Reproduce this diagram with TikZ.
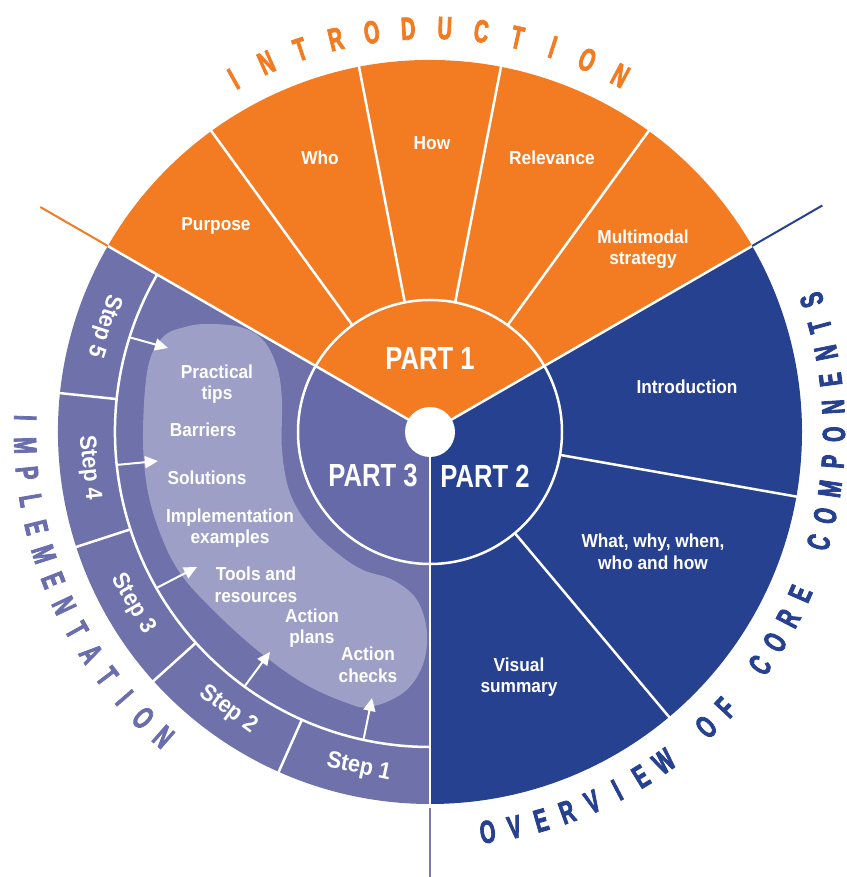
\documentclass[tikz,border=0pt]{standalone}
\usepackage{fontspec}
\setmainfont{Liberation Sans}
\newfontfamily\condf[FakeStretch=0.8]{Liberation Sans}
\newfontfamily\lblf[FakeStretch=0.92]{Liberation Sans}
\newfontfamily\ttlf[FakeStretch=0.62,FakeBold=2.5]{Liberation Sans}
\usetikzlibrary{arrows.meta}
\definecolor{orng}{RGB}{243,123,33}
\definecolor{navyc}{RGB}{38,65,143}
\definecolor{ringc}{RGB}{110,113,170}
\definecolor{pinner}{RGB}{102,106,168}
\definecolor{blobc}{RGB}{158,159,199}
\definecolor{implc}{RGB}{106,110,172}
\definecolor{linep}{RGB}{120,123,180}
\begin{document}
\begin{tikzpicture}[x=1pt,y=1pt,
  lbl/.style={text=white, font=\lblf\fontsize{18.8}{21.5}\selectfont\bfseries, align=center, inner sep=0pt},
  partlbl/.style={text=white, font=\condf\fontsize{32}{36}\selectfont\bfseries, inner sep=0pt},
  steplbl/.style={text=white, font=\lblf\fontsize{23.5}{25}\selectfont\bfseries, inner sep=0pt},
  sep/.style={white, line width=2.5pt},
  arr/.style={white, line width=2pt, -{Triangle[length=13pt,width=12pt]}},
  ttl/.style={font=\ttlf\fontsize{32}{34}\selectfont\bfseries, inner sep=0pt}
]
\useasboundingbox (-430,-445) rectangle (416,432);
% sectors
\fill[orng] (0,0) -- (30:372pt) arc[start angle=30,end angle=150,radius=372pt] -- cycle;
\fill[navyc] (0,0) -- (-90:372pt) arc[start angle=-90,end angle=30,radius=372pt] -- cycle;
\fill[ringc] (0,0) -- (150:372pt) arc[start angle=150,end angle=270,radius=372pt] -- cycle;
\fill[pinner] (0,0) -- (150:132pt) arc[start angle=150,end angle=270,radius=132pt] -- cycle;
% blob
\fill[blobc] plot[smooth cycle, tension=0.6] coordinates {
 (-223,108) (-245,105) (-267,95) (-282,65) (-287,-1) (-283,-55) (-270,-101)
 (-250,-141) (-217,-178) (-173,-218) (-127,-251) (-83,-271) (-60,-275)
 (-27,-261) (-8,-235) (-3,-201) (-13,-168) (-37,-148) (-67,-138) (-93,-121)
 (-120,-95) (-140,-61) (-148,-18) (-148,32) (-153,65) (-167,92) (-190,105)};
% separators
\foreach \a in {54,79,101,126,-10,-50} \draw[sep] (\a:132pt) -- (\a:373pt);
\foreach \a in {174,198,222,246} \draw[sep] (\a:315pt) -- (\a:373pt);
\foreach \a in {30,150,270} \draw[sep] (0,0) -- (\a:373pt);
\draw[sep] (0,0) circle[radius=132pt];
\draw[sep] (150:315pt) arc[start angle=150,end angle=270,radius=315pt];
% outer extensions
\draw[orng, line width=2pt] (150:372pt) -- (150:450pt);
\draw[navyc, line width=2pt] (30:372pt) -- (30:453pt);
\draw[linep, line width=2pt] (270:376pt) -- (270:450pt);
% center
\fill[white] (0,0) circle[radius=25pt];
% part labels
\node[partlbl] (p1) at (0,74) {PART 1};
\node[partlbl] (p3) at (-57,-44) {PART 3};
\node[partlbl] (p2) at (55,-44) {PART 2};
% orange labels
\node[lbl] (purpose) at (-214,206) {Purpose};
\node[lbl] (who) at (-110,274) {Who};
\node[lbl] (how) at (2,289) {How};
\node[lbl] (relev) at (122,274) {Relevance};
\node[lbl] (multi) at (213,183) {Multimodal\\strategy};
% navy labels
\node[lbl] (intro) at (257,45) {Introduction};
\node[lbl] (what) at (223,-120) {What, why, when,\\who and how};
\node[lbl] (visual) at (89,-245) {Visual\\summary};
% blob labels
\node[lbl] (tips) at (-213,48) {Practical\\tips};
\node[lbl] (barr) at (-227,2) {Barriers};
\node[lbl] (sol) at (-223,-46) {Solutions};
\node[lbl] (impl) at (-200,-96) {Implementation\\examples};
\node[lbl] (tools) at (-174,-153) {Tools and\\resources};
\node[lbl] (plans) at (-118,-196) {Action\\plans};
\node[lbl] (checks) at (-62,-233) {Action\\checks};
% step labels
\node[steplbl, rotate=252] (st5) at (162:343pt) {Step 5};
\node[steplbl, rotate=276] (st4) at (186:343pt) {Step 4};
\node[steplbl, rotate=300] (st3) at (210:343pt) {Step 3};
\node[steplbl, rotate=324] (st2) at (234:343pt) {Step 2};
\node[steplbl, rotate=348] (st1) at (258:343pt) {Step 1};
% arrows
\coordinate (a5s) at (162.5:315pt); \coordinate (a5e) at (-262,84);
\coordinate (a4s) at (186:315pt);   \coordinate (a4e) at (-272,-29);
\coordinate (a3s) at (209.7:315pt); \coordinate (a3e) at (-233,-135);
\coordinate (a2s) at (233.9:315pt); \coordinate (a2e) at (-160,-220);
\coordinate (a1s) at (257.8:315pt); \coordinate (a1e) at (-58,-266);
\draw[arr] (a5s) -- (a5e);
\draw[arr] (a4s) -- (a4e);
\draw[arr] (a3s) -- (a3e);
\draw[arr] (a2s) -- (a2e);
\draw[arr] (a1s) -- (a1e);
% curved titles
\foreach \c [count=\i from 0] in {I,N,T,R,O,D,U,C,T,I,O,N} {
  \pgfmathsetmacro\ang{119.1-\i*5.2}
  \node[ttl, text=orng, rotate=\ang-90] (ti\i) at (\ang:404pt) {\c};
}
\foreach \c [count=\i from 0] in {O,V,E,R,V,I,E,W,{},O,F,{},C,O,R,E,{},C,O,M,P,O,N,E,N,T,S} {
  \pgfmathsetmacro\ang{-81.8+\i*3.88}
  \node[ttl, text=navyc, rotate=\ang+90] (to\i) at (\ang:404pt) {\c};
}
\foreach \c [count=\i from 0] in {I,M,P,L,E,M,E,N,T,A,T,I,O,N} {
  \pgfmathsetmacro\ang{178+\i*3.91}
  \node[ttl, text=implc, rotate=\ang+90] (tm\i) at (\ang:405pt) {\c};
}
\end{tikzpicture}
\end{document}
